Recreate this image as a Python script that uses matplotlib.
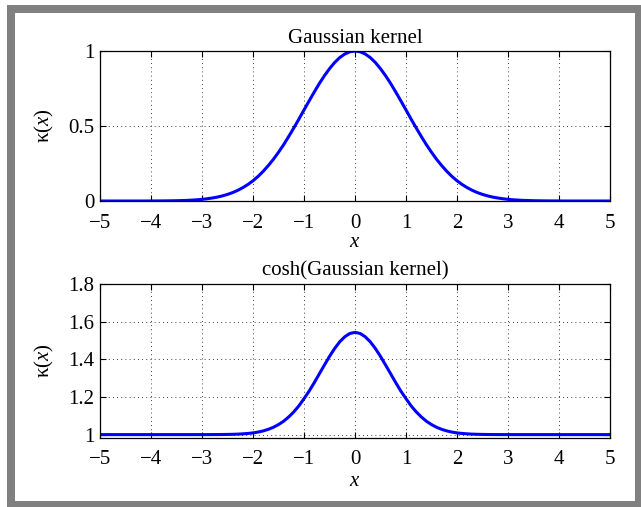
import matplotlib
matplotlib.use('Agg')
import matplotlib.pyplot as plt
from matplotlib.patches import Rectangle

plt.rcParams['font.family'] = ['Liberation Serif', 'DejaVu Serif']
plt.rcParams['mathtext.fontset'] = 'custom'
plt.rcParams['mathtext.rm'] = 'Liberation Serif'
plt.rcParams['mathtext.it'] = 'Liberation Serif:italic'

"""
values read off the reference chart (sampled every 0.1 in x)
"""
x_vals = [-5.0, -4.9, -4.8, -4.7, -4.6, -4.5, -4.4, -4.3, -4.2, -4.1,
          -4.0, -3.9, -3.8, -3.7, -3.6, -3.5, -3.4, -3.3, -3.2, -3.1,
          -3.0, -2.9, -2.8, -2.7, -2.6, -2.5, -2.4, -2.3, -2.2, -2.1,
          -2.0, -1.9, -1.8, -1.7, -1.6, -1.5, -1.4, -1.3, -1.2, -1.1,
          -1.0, -0.9, -0.8, -0.7, -0.6, -0.5, -0.4, -0.3, -0.2, -0.1,
          0.0,
          0.1, 0.2, 0.3, 0.4, 0.5, 0.6, 0.7, 0.8, 0.9, 1.0,
          1.1, 1.2, 1.3, 1.4, 1.5, 1.6, 1.7, 1.8, 1.9, 2.0,
          2.1, 2.2, 2.3, 2.4, 2.5, 2.6, 2.7, 2.8, 2.9, 3.0,
          3.1, 3.2, 3.3, 3.4, 3.5, 3.6, 3.7, 3.8, 3.9, 4.0,
          4.1, 4.2, 4.3, 4.4, 4.5, 4.6, 4.7, 4.8, 4.9, 5.0]
gauss_vals = [0.0, 0.0, 0.0, 0.0, 0.0, 0.0, 0.0, 0.0, 0.0, 0.0,
              0.0003, 0.0005, 0.0007, 0.001, 0.0015, 0.002, 0.003, 0.004, 0.006, 0.008,
              0.011, 0.015, 0.020, 0.026, 0.034, 0.044, 0.056, 0.071, 0.089, 0.110,
              0.135, 0.164, 0.198, 0.236, 0.278, 0.325, 0.375, 0.430, 0.487, 0.546,
              0.607, 0.667, 0.726, 0.783, 0.835, 0.882, 0.923, 0.956, 0.980, 0.995,
              1.0,
              0.995, 0.980, 0.956, 0.923, 0.882, 0.835, 0.783, 0.726, 0.667, 0.607,
              0.546, 0.487, 0.430, 0.375, 0.325, 0.278, 0.236, 0.198, 0.164, 0.135,
              0.110, 0.089, 0.071, 0.056, 0.044, 0.034, 0.026, 0.020, 0.015, 0.011,
              0.008, 0.006, 0.004, 0.003, 0.002, 0.0015, 0.001, 0.0007, 0.0005, 0.0003,
              0.0, 0.0, 0.0, 0.0, 0.0, 0.0, 0.0, 0.0, 0.0, 0.0]
cosh_vals = [1.0, 1.0, 1.0, 1.0, 1.0, 1.0, 1.0, 1.0, 1.0, 1.0,
             1.0, 1.0, 1.0, 1.0, 1.0, 1.0, 1.0, 1.0, 1.0, 1.0,
             1.0001, 1.0001, 1.0002, 1.0003, 1.0006, 1.001, 1.0016, 1.0025, 1.004, 1.0061,
             1.0091, 1.0135, 1.0196, 1.028, 1.0389, 1.0533, 1.0711, 1.0939, 1.1209, 1.1528,
             1.191, 1.2308, 1.2754, 1.3226, 1.3694, 1.4154, 1.4571, 1.4929, 1.5199, 1.5373,
             1.543,
             1.5373, 1.5199, 1.4929, 1.4571, 1.4154, 1.3694, 1.3226, 1.2754, 1.2308, 1.191,
             1.1528, 1.1209, 1.0939, 1.0711, 1.0533, 1.0389, 1.028, 1.0196, 1.0135, 1.0091,
             1.0061, 1.004, 1.0025, 1.0016, 1.001, 1.0006, 1.0003, 1.0002, 1.0001, 1.0001,
             1.0, 1.0, 1.0, 1.0, 1.0, 1.0, 1.0, 1.0, 1.0, 1.0,
             1.0, 1.0, 1.0, 1.0, 1.0, 1.0, 1.0, 1.0, 1.0, 1.0]

x_ticks = [-5, -4, -3, -2, -1, 0, 1, 2, 3, 4, 5]
top_yticks = [0, 0.5, 1]
top_yticklabels = ['0', '0.5', '1']
bot_yticks = [1, 1.2, 1.4, 1.6, 1.8]
bot_yticklabels = ['1', '1.2', '1.4', '1.6', '1.8']
titles = ['Gaussian kernel', 'cosh(Gaussian kernel)']

W, H = 641, 507
fig = plt.figure(figsize=(W / 100, H / 100), dpi=100)
fig.patch.set_facecolor('white')

# gray frame
fig.patches.append(Rectangle((7 / W, 0), (W - 7) / W, (H - 5) / H, transform=fig.transFigure,
                             facecolor='#808080', edgecolor='none', zorder=-2))
fig.patches.append(Rectangle((15 / W, 6 / H), (635 - 15) / W, (501 - 13) / H, transform=fig.transFigure,
                             facecolor='white', edgecolor='none', zorder=-1))


def px_axes(left, top, right, bottom):
    return fig.add_axes([left / W, 1 - bottom / H, (right - left) / W, (bottom - top) / H])


ax1 = px_axes(100, 51, 610, 201)
ax2 = px_axes(100, 284, 610, 438)

fs = 15
# (axes, data, title, yticks, yticklabels, ylim, x tick pad, xlabel pad)
setup = [(ax1, gauss_vals, titles[0], top_yticks, top_yticklabels, (0, 1), 9.5, 0),
         (ax2, cosh_vals, titles[1], bot_yticks, bot_yticklabels, (0.982, 1.8), 8.5, 2)]
for ax, y, title, yt, ytl, ylim, xpad, lpad in setup:
    ax.plot(x_vals, y, color='#0000ff', linewidth=2.2)
    ax.set_xlim(-5, 5)
    ax.set_ylim(*ylim)
    ax.set_xticks(x_ticks)
    ax.set_xticklabels([str(t).replace('-', '\u2212') for t in x_ticks])
    ax.set_yticks(yt)
    ax.set_yticklabels(ytl)
    ax.tick_params(direction='in', top=True, right=True, labelsize=fs, length=4, width=0.8)
    ax.tick_params(axis='x', pad=xpad)
    ax.tick_params(axis='y', pad=4)
    ax.grid(True, linestyle=(0, (1, 4)), color='black', linewidth=0.6)
    for s in ax.spines.values():
        s.set_linewidth(0.9)
    ax.set_title(title, fontsize=fs, pad=6)
    ax.set_xlabel('$x$', fontsize=fs, labelpad=lpad)
    ax.set_ylabel('\u03ba($x$)', fontsize=fs, labelpad=9)

plt.savefig('out.png', dpi=100)
